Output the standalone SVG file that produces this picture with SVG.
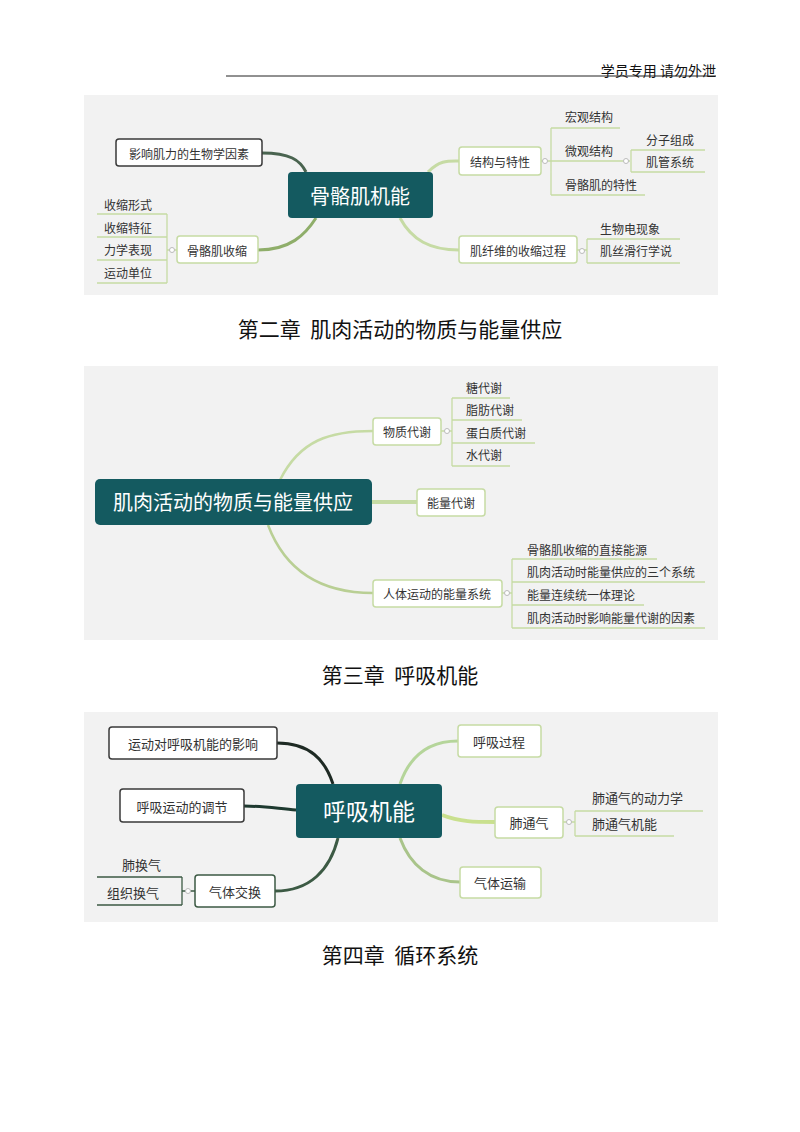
<svg xmlns="http://www.w3.org/2000/svg" width="800" height="1132" viewBox="0 0 800 1132">
<style>
text{font-family:"Noto Sans CJK SC","Noto Sans",sans-serif;fill:#333;}
.t{font-size:12px;dominant-baseline:central;}
.m{text-anchor:middle;}
.c{fill:#fff;font-size:20px;text-anchor:middle;dominant-baseline:central;}
.core{fill:#145a60;}
.bd{fill:#fff;stroke:#3a3a3a;stroke-width:1.5;}
.bg{fill:#fff;stroke:#c6dba4;stroke-width:1.5;}
.ln{fill:none;stroke:#c6dba4;stroke-width:1.3;}
.k{fill:#fff;stroke:#bbb;stroke-width:1;}
.title{font-size:21px;text-anchor:middle;fill:#111;white-space:pre;}
.panel{fill:#f2f2f2;}
</style>
<text x="716" y="76" style="font-size:14px;text-anchor:end;fill:#111">学员专用 请勿外泄</text>
<line x1="226" y1="76" x2="716" y2="76" stroke="#222" stroke-width="1"/>

<!-- Panel 1 -->
<rect class="panel" x="84" y="95" width="634" height="200"/>
<g id="p1-connectors">
<path d="M262,153 C290,153 300,160 306,172" fill="none" stroke="#4a6450" stroke-width="3"/>
<path d="M428,172 C440,160 448,161 459,161" fill="none" stroke="#c6dba4" stroke-width="3"/>
<path d="M400,218 C412,240 430,250 459,250" fill="none" stroke="#c6dba4" stroke-width="3"/>
<path d="M258,250 C290,250 305,235 316,218" fill="none" stroke="#8fae6a" stroke-width="3"/>
<path class="ln" d="M541,161 H630 M551,128 V195 M551,128 H620 M551,195 H645 M631,150 V172 M631,150 H705 M631,172 H705"/>
<path class="ln" d="M577,250 H587 M587,239 V263 M587,239 H680 M587,263 H680"/>
<path class="ln" d="M167,250 H177 M167,214 V283 M97,214 H167 M97,237 H167 M97,260 H167 M97,283 H167"/>
<circle class="k" cx="545" cy="161" r="2.5"/><circle class="k" cx="626" cy="161" r="2.5"/><circle class="k" cx="582" cy="251" r="2.5"/><circle class="k" cx="172" cy="250" r="2.5"/>
</g>
<g id="n-gg"><rect class="core" x="288" y="172" width="145" height="46" rx="4"/><text class="c" x="360" y="195">骨骼肌机能</text></g>
<g id="n-yx"><rect class="bd" x="116" y="139" width="146" height="27" rx="3"/><text class="t m" x="189" y="153">影响肌力的生物学因素</text></g>
<g id="n-jg"><rect class="bg" x="459" y="147" width="82" height="28" rx="3"/><text class="t m" x="500" y="161">结构与特性</text></g>
<g id="n-hg"><text class="t" x="565" y="116">宏观结构</text></g>
<g id="n-wg"><text class="t" x="565" y="150">微观结构</text></g>
<g id="n-fz"><text class="t" x="646" y="139">分子组成</text></g>
<g id="n-jgx"><text class="t" x="646" y="161">肌管系统</text></g>
<g id="n-tx"><text class="t" x="565" y="184">骨骼肌的特性</text></g>
<g id="n-sx"><rect class="bg" x="459" y="236" width="118" height="27" rx="3"/><text class="t m" x="518" y="250">肌纤维的收缩过程</text></g>
<g id="n-sw"><text class="t" x="600" y="228">生物电现象</text></g>
<g id="n-hx"><text class="t" x="600" y="250">肌丝滑行学说</text></g>
<g id="n-ss"><rect class="bg" x="177" y="236" width="81" height="27" rx="3"/><text class="t m" x="217" y="250">骨骼肌收缩</text></g>
<g id="n-l1"><text class="t" x="104" y="204">收缩形式</text></g>
<g id="n-l2"><text class="t" x="104" y="227">收缩特征</text></g>
<g id="n-l3"><text class="t" x="104" y="249">力学表现</text></g>
<g id="n-l4"><text class="t" x="104" y="272">运动单位</text></g>
<text class="title" x="400" y="337" xml:space="preserve">第二章  肌肉活动的物质与能量供应</text>

<!-- Panel 2 -->
<rect class="panel" x="84" y="366" width="634" height="274"/>
<g id="p2-connectors">
<path d="M280,480 C300,440 330,431 373,431" fill="none" stroke="#c6dba4" stroke-width="2.5"/>
<path d="M372,502 H417" fill="none" stroke="#c6dba4" stroke-width="4"/>
<path d="M268,525 C285,570 320,593 373,593" fill="none" stroke="#b9cf94" stroke-width="2.5"/>
<path class="ln" d="M441,431 H452 M452,398 V466 M452,398 H510 M452,420 H522 M452,443 H535 M452,466 H510"/>
<path class="ln" d="M502,593 H512 M512,559 V628 M512,559 H657 M512,582 H705 M512,605 H644 M512,628 H705"/>
<circle class="k" cx="447" cy="431" r="2.5"/><circle class="k" cx="507" cy="593" r="2.5"/>
</g>
<g id="n-jr"><rect class="core" x="95" y="479" width="277" height="46" rx="5"/><text class="c" x="233" y="501">肌肉活动的物质与能量供应</text></g>
<g id="n-wz"><rect class="bg" x="373" y="418" width="68" height="27" rx="3"/><text class="t m" x="407" y="431">物质代谢</text></g>
<g id="n-t1"><text class="t" x="466" y="387">糖代谢</text></g>
<g id="n-t2"><text class="t" x="466" y="409">脂肪代谢</text></g>
<g id="n-t3"><text class="t" x="466" y="432">蛋白质代谢</text></g>
<g id="n-t4"><text class="t" x="466" y="454">水代谢</text></g>
<g id="n-nl"><rect class="bg" x="417" y="489" width="68" height="27" rx="3"/><text class="t m" x="451" y="502">能量代谢</text></g>
<g id="n-rt"><rect class="bg" x="373" y="580" width="129" height="27" rx="3"/><text class="t m" x="437" y="593">人体运动的能量系统</text></g>
<g id="n-e1"><text class="t" x="527" y="549">骨骼肌收缩的直接能源</text></g>
<g id="n-e2"><text class="t" x="527" y="571">肌肉活动时能量供应的三个系统</text></g>
<g id="n-e3"><text class="t" x="527" y="594">能量连续统一体理论</text></g>
<g id="n-e4"><text class="t" x="527" y="617">肌肉活动时影响能量代谢的因素</text></g>
<text class="title" x="400" y="683" xml:space="preserve">第三章  呼吸机能</text>

<!-- Panel 3 -->
<rect class="panel" x="84" y="712" width="634" height="210"/>
<g id="p3-connectors">
<path d="M277,743 C310,743 325,760 333,784" fill="none" stroke="#1e2a24" stroke-width="3"/>
<path d="M244,806 C265,806 280,809 296,810" fill="none" stroke="#1e3a30" stroke-width="3"/>
<path d="M275,891 C310,891 330,870 338,838" fill="none" stroke="#3c5a44" stroke-width="3"/>
<path d="M400,784 C410,755 430,741 458,741" fill="none" stroke="#b5d59a" stroke-width="3"/>
<path d="M442,815 C460,822 475,822 495,822" fill="none" stroke="#c9e08e" stroke-width="4"/>
<path d="M400,838 C410,865 430,882 460,882" fill="none" stroke="#a9c48a" stroke-width="3"/>
<path class="ln" d="M563,822 H575 M575,811 V836 M575,811 H703 M575,836 H674"/>
<path d="M195,891 H182 M182,877 V905 M97,877 H182 M97,905 H182" fill="none" stroke="#3c5a44" stroke-width="1.3"/>
<circle class="k" cx="569" cy="822" r="2.5"/><circle class="k" cx="188" cy="891" r="2.5"/>
</g>
<g id="n-hx3"><rect class="core" x="296" y="784" width="146" height="54" rx="4"/><text class="c" x="369" y="810" style="font-size:23px">呼吸机能</text></g>
<g id="n-yd"><rect class="bd" x="109" y="727" width="168" height="32" rx="3"/><text class="t m" x="193" y="743" style="font-size:13px">运动对呼吸机能的影响</text></g>
<g id="n-tj"><rect class="bd" x="120" y="789" width="124" height="33" rx="3"/><text class="t m" x="182" y="806" style="font-size:13px">呼吸运动的调节</text></g>
<g id="n-qj"><rect class="bd" x="195" y="875" width="80" height="32" rx="3" style="stroke:#3c5a44"/><text class="t m" x="235" y="891" style="font-size:13px">气体交换</text></g>
<g id="n-fh"><text class="t" x="122" y="864" style="font-size:13px">肺换气</text></g>
<g id="n-zz"><text class="t" x="107" y="892" style="font-size:13px">组织换气</text></g>
<g id="n-gc"><rect class="bg" x="458" y="725" width="83" height="32" rx="3"/><text class="t m" x="499" y="741" style="font-size:13px">呼吸过程</text></g>
<g id="n-ft"><rect class="bg" x="495" y="807" width="68" height="31" rx="3"/><text class="t m" x="529" y="822" style="font-size:13px">肺通气</text></g>
<g id="n-dl"><text class="t" x="592" y="797" style="font-size:13px">肺通气的动力学</text></g>
<g id="n-jn"><text class="t" x="592" y="823" style="font-size:13px">肺通气机能</text></g>
<g id="n-ys"><rect class="bg" x="460" y="867" width="81" height="31" rx="3"/><text class="t m" x="500" y="882" style="font-size:13px">气体运输</text></g>
<text class="title" x="400" y="963" xml:space="preserve">第四章  循环系统</text>
</svg>
